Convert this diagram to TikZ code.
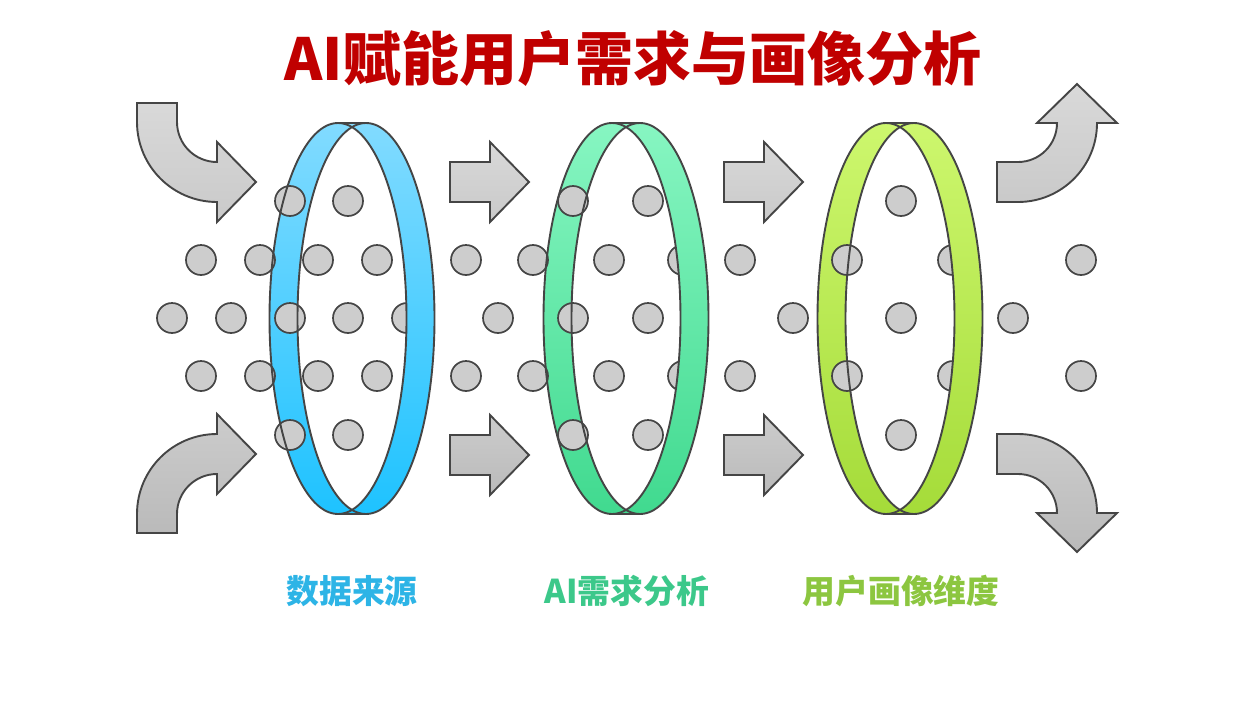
\documentclass[tikz,border=0pt]{standalone}
\usepackage{fontspec}
\newfontfamily\cjk{Noto Sans CJK SC}
\definecolor{titlered}{HTML}{C00000}
\definecolor{blueT}{HTML}{86DCFF}
\definecolor{blueB}{HTML}{1CC2FF}
\definecolor{greenT}{HTML}{8AF7C4}
\definecolor{greenB}{HTML}{3FD98E}
\definecolor{limeT}{HTML}{CFF870}
\definecolor{limeB}{HTML}{A4DB38}
\definecolor{lblblue}{HTML}{2DB4E6}
\definecolor{lblgreen}{HTML}{3CC88A}
\definecolor{lbllime}{HTML}{8CC640}
\definecolor{edge}{HTML}{454545}
\definecolor{dotfill}{HTML}{CDCDCD}
\tikzset{
  outline/.style={draw=edge, line width=1.9pt},
  dotstyle/.style={fill=dotfill, draw=edge, line width=1.7pt},
  arrowup/.style={draw=edge, line width=1.9pt, line join=miter, top color=gray!30!white, bottom color=gray!42!white},
  arrowdown/.style={draw=edge, line width=1.9pt, line join=miter, top color=gray!40!white, bottom color=gray!54!white},
  ringarc/.style={x radius=68.5, y radius=195.5},
  lbl/.style={font=\cjk\bfseries\fontsize{32.8}{36}\selectfont, inner sep=0pt}
}
\begin{document}
\begin{tikzpicture}[x=1pt,y=-1pt]
\useasboundingbox (0,0) rectangle (1258,707);

% title
\node[font=\cjk\bfseries\fontsize{58}{62}\selectfont, text=titlered, inner sep=0pt] (title) at (633,59) {AI赋能用户需求与画像分析};

% left bands of the rings
\foreach \c/\ct/\cb in {352/blueT/blueB, 626/greenT/greenB, 900/limeT/limeB}{
  \shade[top color=\ct, bottom color=\cb]
    (\c,127.13) arc[start angle=-78.2, end angle=-281.8, ringarc]
    arc[start angle=101.8, end angle=258.2, ringarc] -- cycle;
}

% dots
\foreach \x/\y in {290/201,348/201,573/201,648/201,901/201,
  290/435,348/435,573/435,648/435,901/435,
  201/260,260/260,318/260,377/260,466/260,533/260,609/260,683/260,740/260,847/260,953/260,1081/260,
  201/376,260/376,318/376,377/376,466/376,533/376,609/376,683/376,740/376,847/376,953/376,1081/376,
  172/318,231/318,290/318,348/318,407/318,498/318,573/318,648/318,793/318,901/318,1013/318}{
  \draw[dotstyle] (\x,\y) circle[radius=15];
}

% right bands and outlines
\foreach \c/\ct/\cb in {352/blueT/blueB, 626/greenT/greenB, 900/limeT/limeB}{
  \shade[top color=\ct, bottom color=\cb]
    (\c,127.13) arc[start angle=-101.8, end angle=101.8, ringarc]
    arc[start angle=78.2, end angle=-78.2, ringarc] -- cycle;
  \fill[\ct] (\c-14,123) -- (\c+14,123) arc[start angle=-90, end angle=-101.8, ringarc]
    arc[start angle=-78.2, end angle=-90, ringarc] -- cycle;
  \fill[\cb] (\c-14,514) -- (\c+14,514) arc[start angle=90, end angle=101.8, ringarc]
    arc[start angle=78.2, end angle=90, ringarc] -- cycle;
  \draw[outline] (\c-14,318.5) ellipse[x radius=68.5, y radius=195.5];
  \draw[outline] (\c+14,318.5) ellipse[x radius=68.5, y radius=195.5];
  \draw[outline] (\c-14,123) -- (\c+14,123);
  \draw[outline] (\c-14,514) -- (\c+14,514);
}

% straight arrows
\foreach \x in {450,724}{
  \draw[arrowup] (\x,162) -- (\x+40,162) -- (\x+40,142) -- (\x+79,182) -- (\x+40,222) -- (\x+40,202) -- (\x,202) -- cycle;
  \draw[arrowdown] (\x,435) -- (\x+40,435) -- (\x+40,415) -- (\x+79,455) -- (\x+40,495) -- (\x+40,475) -- (\x,475) -- cycle;
}

% curved arrows, left
\draw[arrowup] (137,103) -- (137,122) arc[start angle=180, end angle=90, radius=80]
  -- (217,222) -- (256,182) -- (217,142) -- (217,162)
  arc[start angle=90, end angle=180, radius=40] -- (177,103) -- cycle;
\draw[arrowdown] (137,533) -- (137,514) arc[start angle=180, end angle=270, radius=80]
  -- (217,414) -- (256,454) -- (217,494) -- (217,474)
  arc[start angle=270, end angle=180, radius=40] -- (177,533) -- cycle;

% curved arrows, right
\draw[arrowup] (997,202) -- (1018,202) arc[start angle=90, end angle=0, radius=79]
  -- (1117,123) -- (1077,84) -- (1037,123) -- (1057,123)
  arc[start angle=0, end angle=90, radius=39] -- (997,162) -- cycle;
\draw[arrowdown] (997,434) -- (1018,434) arc[start angle=270, end angle=360, radius=79]
  -- (1117,513) -- (1077,552) -- (1037,513) -- (1057,513)
  arc[start angle=360, end angle=270, radius=39] -- (997,474) -- cycle;

% labels
\node[lbl, text=lblblue] (l1) at (352,591) {数据来源};
\node[lbl, text=lblgreen] (l2) at (627,591) {AI需求分析};
\node[lbl, text=lbllime] (l3) at (901,591) {用户画像维度};
\end{tikzpicture}
\end{document}
